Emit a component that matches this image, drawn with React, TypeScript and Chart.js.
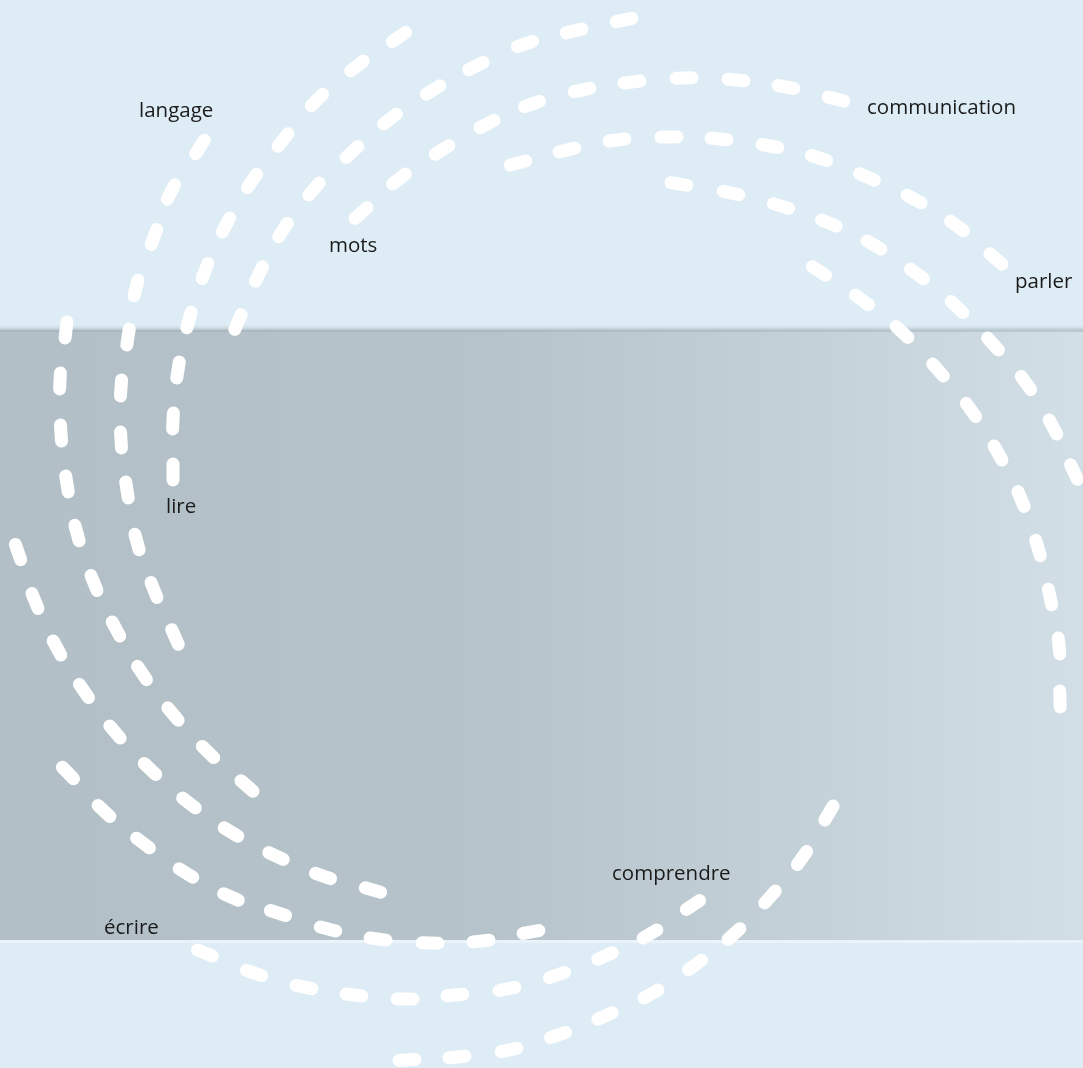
import React, { useEffect, useRef } from "react";
import { Chart, registerables } from "chart.js";

Chart.register(...registerables);

// Dash centres of each dashed arc (x, y in picture units, y grows downward)
const arcOuterLeft = [[66,330],[60,381],[61,433],[67,484],[77,533],[94,583],[116,629],[142,673],[173,714],[208,752],[247,786]];
const arcLangage = [[200,147],[171,192],[154,237],[136,288],[128,337],[121,388],[121,440],[127,490],[137,542],[154,590],[175,637]];
const arcLire = [[399,37],[357,66],[317,100],[283,140],[252,181],[226,225],[205,271],[189,320],[178,370],[173,421],[173,472]];
const arcTop = [[624,20],[574,31],[525,44],[476,66],[433,90],[390,119],[352,152],[314,189],[283,230],[259,274],[238,322]];
const arcCommunication = [[836,99],[786,87],[736,80],[684,78],[632,82],[582,90],[532,104],[487,124],[442,150],[399,179],[361,213]];
const arcParler = [[996,259],[957,226],[914,199],[867,177],[819,158],[770,146],[719,139],[669,137],[617,140],[567,150],[518,163]];
const arcRightOuter = [[679,184],[731,193],[781,206],[829,223],[874,245],[917,274],[957,307],[993,344],[1026,383],[1053,427],[1074,472]];
const arcRightInner = [[819,271],[862,300],[902,332],[938,370],[971,410],[998,453],[1021,499],[1038,548],[1050,597],[1059,646],[1060,699]];
const arcComprendreOuter = [[829,813],[802,858],[770,897],[734,934],[695,965],[651,994],[605,1016],[558,1035],[509,1050],[457,1057],[407,1060]];
const arcComprendreInner = [[693,905],[650,934],[605,956],[557,975],[507,989],[455,995],[405,999],[354,995],[304,987],[254,973],[205,953]];
const arcEcrire = [[68,773],[104,811],[143,843],[186,873],[231,897],[278,913],[328,929],[378,939],[430,943],[481,941],[531,932]];
const arcLeftmost = [[18,552],[35,601],[57,648],[84,691],[115,732],[150,769],[189,803],[231,832],[276,856],[323,876],[373,890]];

const arcs = [
  arcOuterLeft, arcLangage, arcLire, arcTop, arcCommunication, arcParler,
  arcRightOuter, arcRightInner, arcComprendreOuter, arcComprendreInner, arcEcrire, arcLeftmost,
];

// Word labels (left x, baseline y)
const labelTexts = ["langage", "mots", "communication", "parler", "lire", "écrire", "comprendre"];
const labelX = [139, 329, 867, 1015, 166, 104, 612];
const labelY = [117, 252, 114, 288, 513, 934, 880];

// Grey band limits (y)
const bandRange = [330, 940];

const W = 1083;
const H = 1068;

const rotationFor = (ctx: any) => {
  if (ctx.dataIndex == null || !ctx.dataset) return 0;
  const d = ctx.dataset.data;
  const i = ctx.dataIndex;
  const a = d[Math.max(i - 1, 0)];
  const b = d[Math.min(i + 1, d.length - 1)];
  return (Math.atan2(b.y - a.y, b.x - a.x) * 180) / Math.PI;
};

const backgroundPlugin = {
  id: "bg",
  beforeDraw(chart: any) {
    const { ctx, width, height } = chart;
    const y = chart.scales.y;
    const top = y.getPixelForValue(bandRange[0]);
    const bot = y.getPixelForValue(bandRange[1]);
    ctx.save();
    ctx.fillStyle = "#deecf5";
    ctx.fillRect(0, 0, width, height);
    const g = ctx.createLinearGradient(0, 0, width, 0);
    g.addColorStop(0, "#b2bfc6");
    g.addColorStop(0.45, "#b6c3ca");
    g.addColorStop(0.75, "#c4d1d8");
    g.addColorStop(1, "#d2dfe6");
    ctx.fillStyle = g;
    ctx.fillRect(0, top, width, bot - top);
    // top edge shading
    const gt = ctx.createLinearGradient(0, top - 5, 0, top);
    gt.addColorStop(0, "rgba(200,212,219,0)");
    gt.addColorStop(1, "rgba(175,189,197,0.8)");
    ctx.fillStyle = gt;
    ctx.fillRect(0, top - 5, width, 5);
    ctx.fillStyle = "rgba(160,174,182,0.45)";
    ctx.fillRect(0, top, width, 2);
    // bottom edge highlight
    ctx.fillStyle = "rgba(235,244,250,0.9)";
    ctx.fillRect(0, bot, width, 3);
    ctx.restore();
  },
  beforeDatasetsDraw(chart: any) {
    chart.ctx.lineCap = "round";
  },
  afterDatasetsDraw(chart: any) {
    const { ctx } = chart;
    const xs = chart.scales.x;
    const ys = chart.scales.y;
    ctx.save();
    ctx.fillStyle = "#1b1b1b";
    ctx.font = '20.5px "Open Sans"';
    ctx.textAlign = "left";
    ctx.textBaseline = "alphabetic";
    labelTexts.forEach((t, i) => {
      ctx.fillText(t, xs.getPixelForValue(labelX[i]), ys.getPixelForValue(labelY[i]));
    });
    ctx.restore();
  },
};

export default function App() {
  const ref = useRef<HTMLCanvasElement | null>(null);
  useEffect(() => {
    document.body.style.margin = "0";
    document.body.style.overflow = "hidden";
    if (!ref.current) return;
    const chart = new Chart(ref.current, {
      type: "scatter",
      data: {
        datasets: arcs.map((a) => ({
          data: a.map(([x, y]) => ({ x, y })),
          showLine: false,
          clip: false,
          pointStyle: "line",
          pointRadius: 8,
          pointHoverRadius: 8,
          pointBorderWidth: 13,
          pointHoverBorderWidth: 13,
          pointBorderColor: "#ffffff",
          pointBackgroundColor: "#ffffff",
          pointRotation: rotationFor,
        })),
      },
      options: {
        responsive: false,
        animation: false,
        events: [],
        layout: { padding: 0, autoPadding: false },
        plugins: { legend: { display: false }, tooltip: { enabled: false } },
        scales: {
          x: { type: "linear", min: 0, max: W, display: false },
          y: { type: "linear", min: 0, max: H, reverse: true, display: false },
        },
      },
      plugins: [backgroundPlugin],
    });
    return () => chart.destroy();
  }, []);
  return (
    <div style={{ width: W, height: H }}>
      <canvas ref={ref} width={W} height={H} style={{ display: "block", width: W, height: H }} />
    </div>
  );
}
